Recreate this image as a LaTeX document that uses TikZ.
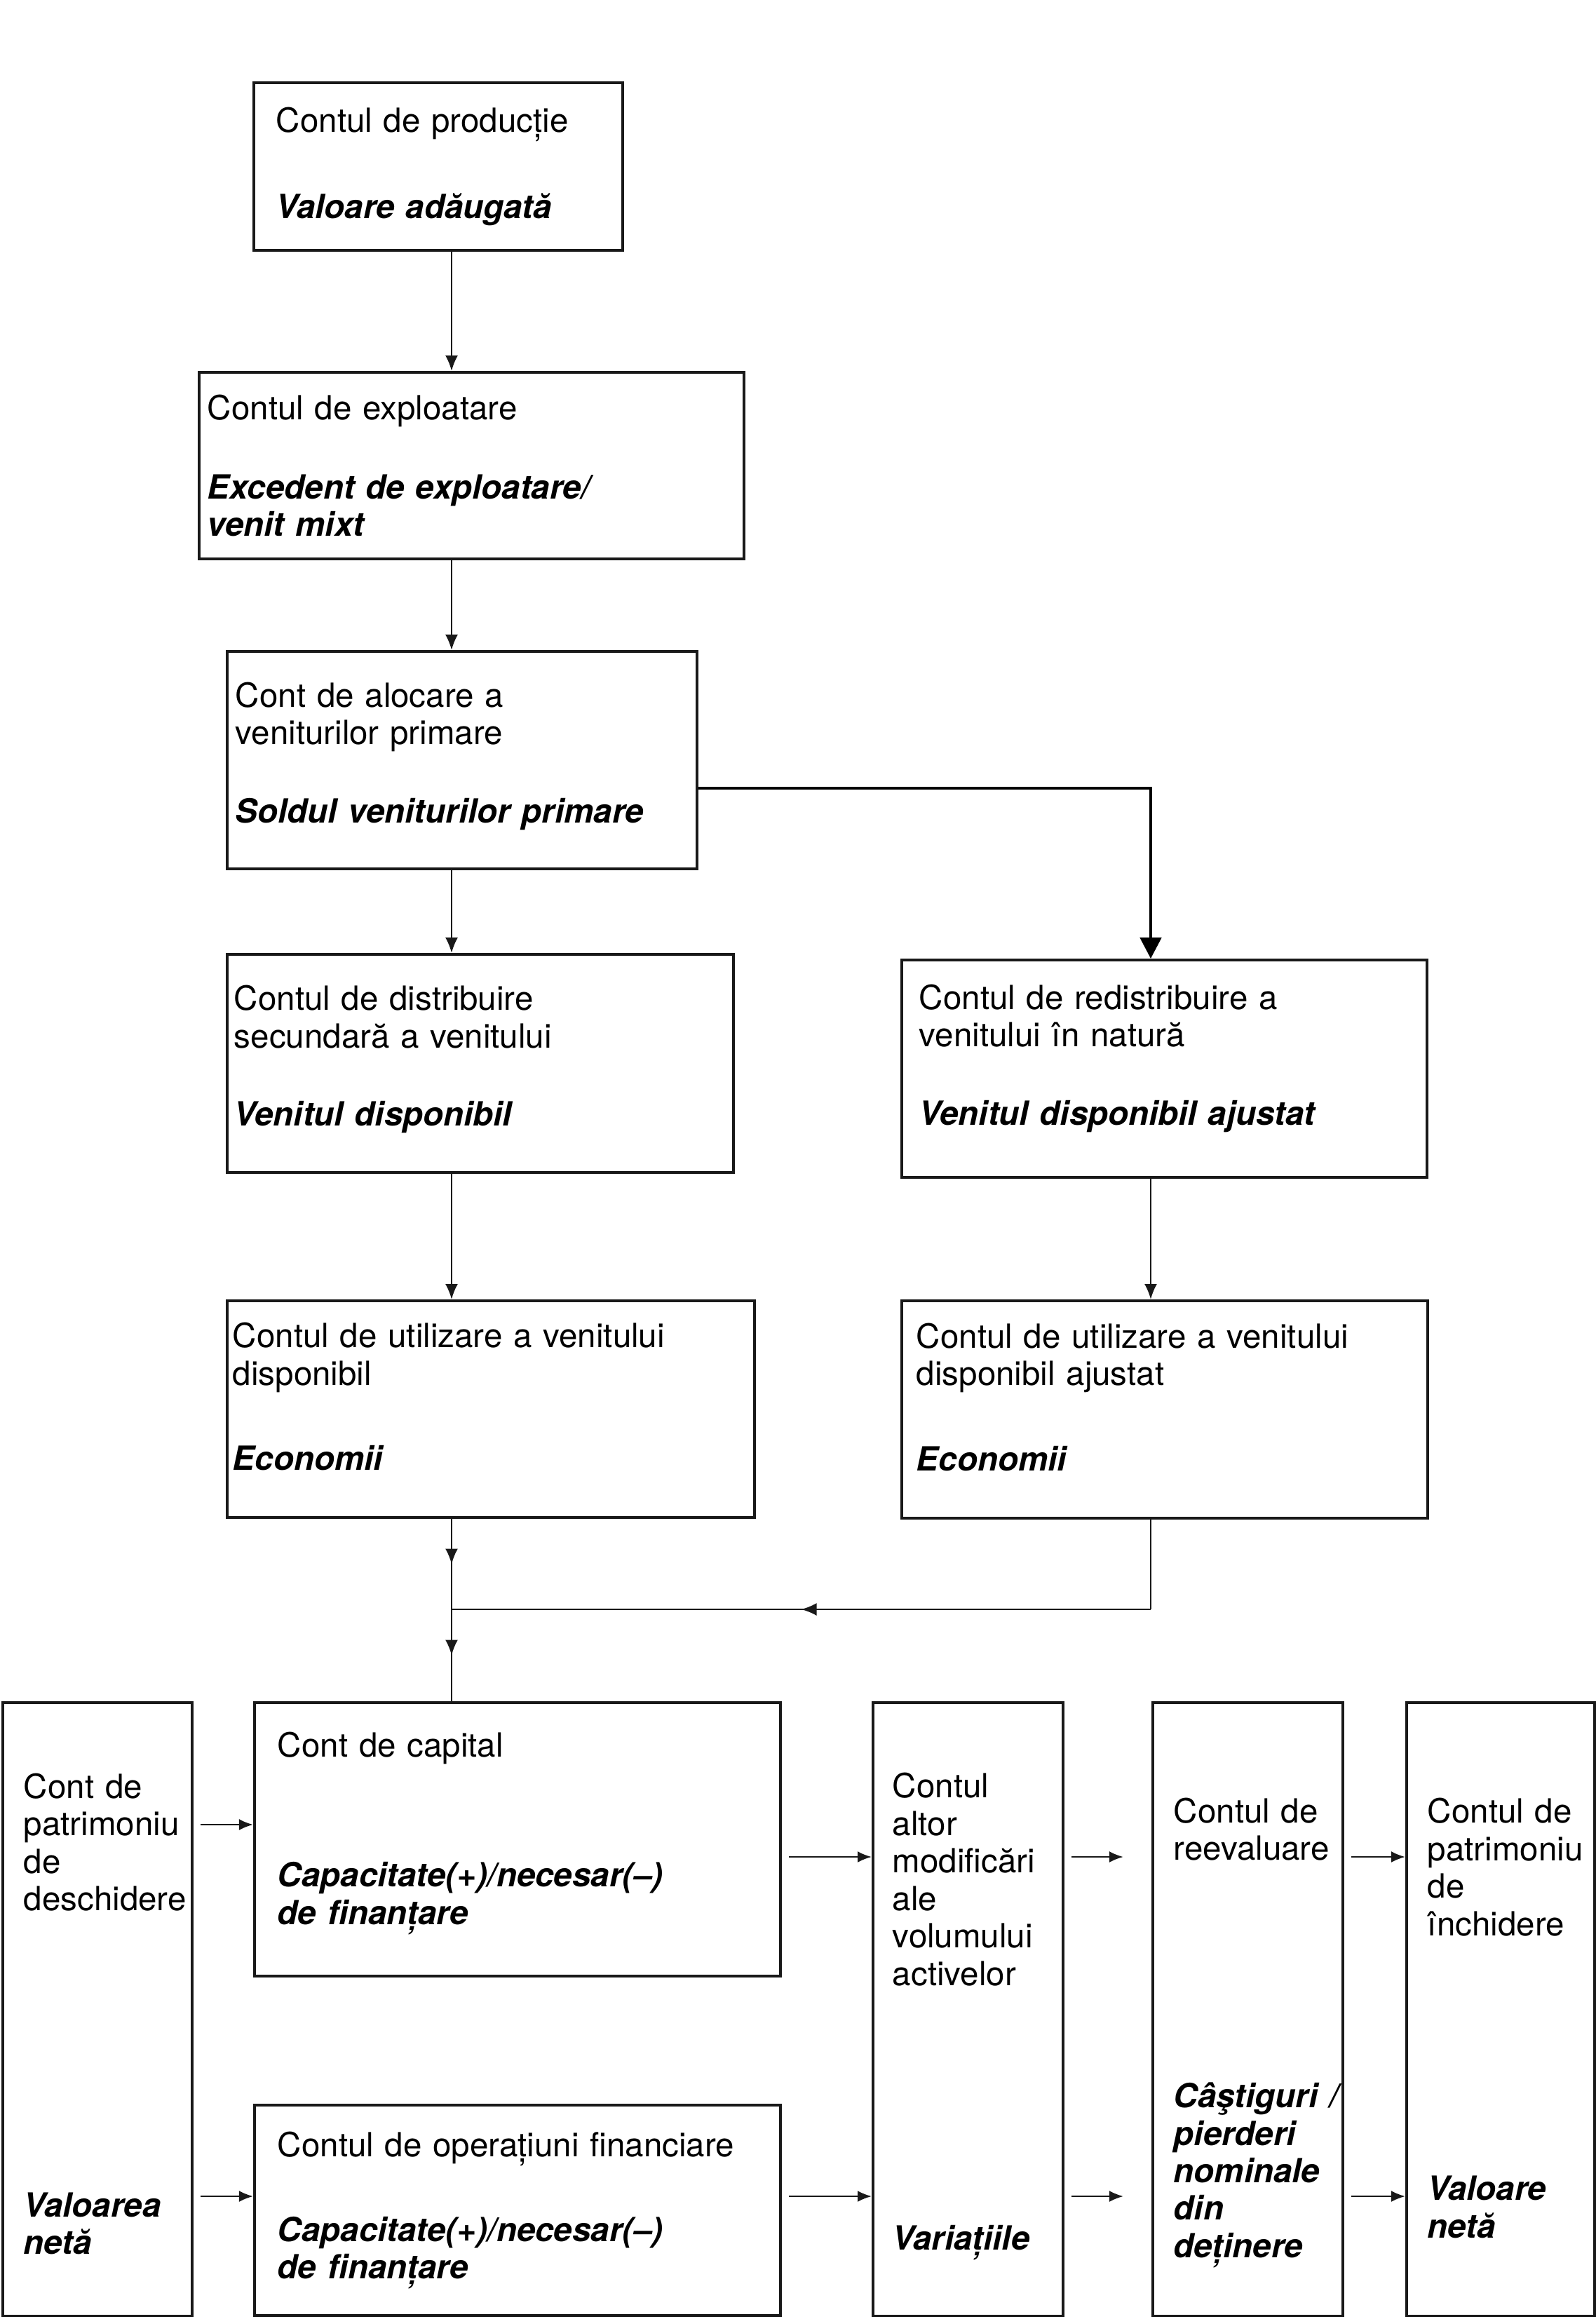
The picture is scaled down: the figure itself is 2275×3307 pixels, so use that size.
\documentclass[tikz,border=0pt]{standalone}
\usepackage{fontspec}
\setmainfont{TeX Gyre Heros}
\usepackage{tikz}
\usetikzlibrary{arrows.meta, decorations.markings}
\definecolor{mydark}{RGB}{25,25,25}
\hyphenpenalty=10000
\newcommand{\sold}[1]{{\bfseries\itshape #1}}
\newcommand{\acctfont}{\fontsize{13.5}{15.2}\selectfont}
% struts to nudge a text block inside its box
\newcommand{\padabove}[1]{\rule{0pt}{#1}}
\newcommand{\padbelow}[1]{\rule[-#1]{0pt}{0pt}}
\tikzset{
  acct/.style={rectangle, draw=mydark, fill=white, line width=1.1pt,
    anchor=north west, align=left, inner ysep=0pt, font=\acctfont},
  link/.style={color=mydark, line width=0.7pt},
  arrow/.style={-{Latex[length=0.22cm,width=0.18cm]}, link},
  sidearrow/.style={-{Latex[length=0.2cm,width=0.16cm]}, link, shorten <=0.1cm},
  bigarrow/.style={-{Triangle[length=0.3cm,width=0.3cm]}, line width=1.4pt, color=black},
  midarrow/.style={link, postaction={decorate}, decoration={markings,
    mark=at position 0.5 with {\arrow{Latex[length=0.22cm,width=0.18cm]}}}}
}

\begin{document}
\begin{tikzpicture}[x=0.01cm, y=-0.01cm]
  \useasboundingbox (0,0) rectangle (2275,3307);
  % Current accounts
  \node[acct, text width=4.62cm, inner xsep=0.32cm, minimum height=2.39cm] (prod) at (360,116)
    {Contul de producție\\[0.70cm]\sold{Valoare adăugată}};
  \node[acct, text width=7.53cm, inner xsep=0.12cm, minimum height=2.66cm] (expl) at (282,529)
    {Contul de exploatare\\[0.60cm]\sold{Excedent de exploatare/}\\\sold{venit mixt}};
  \node[acct, text width=6.46cm, inner xsep=0.12cm, minimum height=3.10cm] (aloc) at (322,927)
    {Cont de alocare a\\veniturilor primare\\[0.58cm]\sold{Soldul veniturilor primare}\padbelow{0.22cm}};
  \node[acct, text width=7.02cm, inner xsep=0.10cm, minimum height=3.11cm] (dist) at (322,1359)
    {Contul de distribuire\\secundară a venitului\\[0.58cm]\sold{Venitul disponibil}\padbelow{0.22cm}};
  \node[acct, text width=6.99cm, inner xsep=0.25cm, minimum height=3.10cm] (redist) at (1284,1367)
    {Contul de redistribuire a\\venitului în natură\\[0.58cm]\sold{Venitul disponibil ajustat}\padbelow{0.40cm}};
  \node[acct, text width=7.36cm, inner xsep=0.08cm, minimum height=3.09cm] (util) at (322,1853)
    {Contul de utilizare a venitului\\disponibil\\[0.68cm]\sold{Economii}\padbelow{0.36cm}};
  \node[acct, text width=7.08cm, inner xsep=0.21cm, minimum height=3.10cm] (utilaj) at (1284,1853)
    {Contul de utilizare a venitului\\disponibil ajustat\\[0.68cm]\sold{Economii}\padbelow{0.36cm}};
  % Accumulation accounts and balance sheets
  \node[acct, text width=2.10cm, inner xsep=0.30cm, minimum height=8.74cm] (desch) at (2,2426)
    {\padabove{0.49cm}Cont de\\patrimoniu\\de\\deschidere\\[3.83cm]\sold{Valoarea}\\\sold{netă}};
  \node[acct, text width=6.84cm, inner xsep=0.33cm, minimum height=3.90cm] (capital) at (361,2426)
    {Cont de capital\\[1.32cm]\sold{Capacitate(+)/necesar(\textendash)}\\\sold{de finanțare}\padbelow{0.32cm}};
  \node[acct, text width=6.84cm, inner xsep=0.33cm, minimum height=3.00cm] (fin) at (361,3000)
    {Contul de operațiuni financiare\\[0.68cm]\sold{Capacitate(+)/necesar(\textendash)}\\\sold{de finanțare}};
  \node[acct, text width=2.15cm, inner xsep=0.28cm, minimum height=8.74cm] (altor) at (1243,2426)
    {\padabove{0.57cm}Contul\\altor\\modificări\\ale\\volumului\\activelor\\[3.24cm]\sold{Variațiile}};
  \node[acct, text width=2.11cm, inner xsep=0.30cm, minimum height=8.74cm] (reev) at (1642,2426)
    {\padabove{1.03cm}Contul de\\reevaluare\\[2.99cm]\sold{Câştiguri~/}\\\sold{pierderi}\\\sold{nominale}\\\sold{din}\\\sold{deținere}};
  \node[acct, text width=2.08cm, inner xsep=0.30cm, minimum height=8.74cm] (inch) at (2004,2426)
    {\padabove{0.61cm}Contul de\\patrimoniu\\de\\închidere\\[3.24cm]\sold{Valoare}\\\sold{netă}};
  % Connector columns and rows
  \coordinate (colA) at (644,0);
  \coordinate (colB) at (1641,0);
  \coordinate (kn) at (1641,1124);
  \coordinate (jn) at (644,2295);
  \coordinate (r1) at (0,2602);
  \coordinate (r2) at (0,2648);
  \coordinate (r3) at (0,3132);
  % Vertical chain
  \draw[arrow] (prod.south -| colA) -- (expl.north -| colA);
  \draw[arrow] (expl.south -| colA) -- (aloc.north -| colA);
  \draw[arrow] (aloc.south -| colA) -- (dist.north -| colA);
  \draw[arrow] (dist.south -| colA) -- (util.north -| colA);
  \draw[arrow] (redist.south -| colB) -- (utilaj.north -| colB);
  \draw[bigarrow] (aloc.east |- kn) -- (kn) -- (redist.north -| kn);
  % Savings into the capital account
  \draw[midarrow] (util.south -| colA) -- (jn);
  \draw[midarrow] (jn) -- (capital.north -| jn);
  \draw[link] (utilaj.south -| colB) -- (colB |- jn);
  \draw[midarrow] (colB |- jn) -- (jn);
  % Horizontal flows
  \draw[sidearrow] (desch.east |- r1) -- (capital.west |- r1);
  \draw[sidearrow] (desch.east |- r3) -- (fin.west |- r3);
  \draw[sidearrow] (capital.east |- r2) -- (altor.west |- r2);
  \draw[sidearrow] (fin.east |- r3) -- (altor.west |- r3);
  \draw[sidearrow, shorten >=0.4cm] (altor.east |- r2) -- (reev.west |- r2);
  \draw[sidearrow, shorten >=0.4cm] (altor.east |- r3) -- (reev.west |- r3);
  \draw[sidearrow] (reev.east |- r2) -- (inch.west |- r2);
  \draw[sidearrow] (reev.east |- r3) -- (inch.west |- r3);
\end{tikzpicture}
\end{document}
